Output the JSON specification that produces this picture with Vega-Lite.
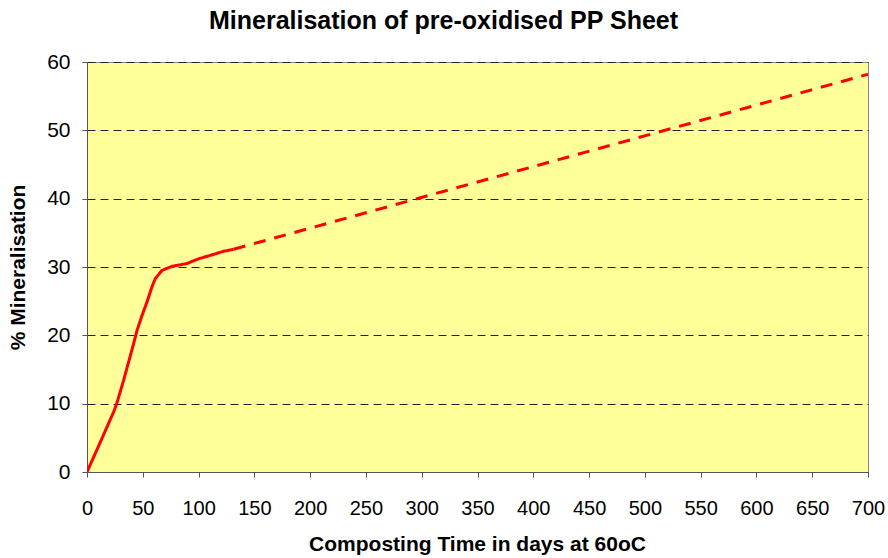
{
  "$schema": "https://vega.github.io/schema/vega-lite/v6.json",
  "width": 781,
  "height": 410,
  "autosize": {"type": "none"},
  "padding": {"left": 87, "top": 62, "right": 20, "bottom": 86},
  "background": "white",
  "config": {
    "font": "Liberation Sans",
    "view": {"fill": "#FFFF99", "stroke": "#888888", "strokeWidth": 1}
  },
  "title": {
    "text": "Mineralisation of pre-oxidised PP Sheet",
    "font": "Liberation Sans",
    "fontSize": 25,
    "fontWeight": "bold",
    "color": "#000000",
    "anchor": "middle",
    "dx": -34,
    "offset": 17
  },
  "data": {
    "values": [
      {"day": 0, "pct": 0, "series": "measured"},
      {"day": 12, "pct": 4.4, "series": "measured"},
      {"day": 23.9, "pct": 8.8, "series": "measured"},
      {"day": 26.6, "pct": 10.0, "series": "measured"},
      {"day": 32.8, "pct": 13.4, "series": "measured"},
      {"day": 41.8, "pct": 18.8, "series": "measured"},
      {"day": 44.8, "pct": 20.7, "series": "measured"},
      {"day": 49.3, "pct": 22.9, "series": "measured"},
      {"day": 53.8, "pct": 24.9, "series": "measured"},
      {"day": 58.2, "pct": 27.1, "series": "measured"},
      {"day": 61.2, "pct": 28.3, "series": "measured"},
      {"day": 67.2, "pct": 29.5, "series": "measured"},
      {"day": 76.2, "pct": 30.1, "series": "measured"},
      {"day": 89.6, "pct": 30.5, "series": "measured"},
      {"day": 100, "pct": 31.2, "series": "measured"},
      {"day": 110.5, "pct": 31.7, "series": "measured"},
      {"day": 122.5, "pct": 32.3, "series": "measured"},
      {"day": 131.5, "pct": 32.6, "series": "measured"},
      {"day": 131.5, "pct": 32.6, "series": "extrapolated"},
      {"day": 700, "pct": 58.2, "series": "extrapolated"}
    ]
  },
  "mark": {"type": "line", "color": "#FF0000", "strokeWidth": 3, "clip": true},
  "encoding": {
    "x": {
      "field": "day",
      "type": "quantitative",
      "scale": {"domain": [0, 700], "nice": false},
      "axis": {
        "title": "Composting Time in days at 60oC",
        "values": [0, 50, 100, 150, 200, 250, 300, 350, 400, 450, 500, 550, 600, 650, 700],
        "grid": false,
        "domainColor": "#555555",
        "tickColor": "#555555",
        "tickSize": 5,
        "labelFontSize": 20,
        "labelColor": "#000000",
        "labelPadding": 21,
        "labelFlush": false,
        "titleFontSize": 21,
        "titleFontWeight": "bold",
        "titleColor": "#000000",
        "titlePadding": 15,
        "titleX": 390
      }
    },
    "y": {
      "field": "pct",
      "type": "quantitative",
      "scale": {"domain": [0, 60], "nice": false},
      "axis": {
        "title": "% Mineralisation",
        "values": [0, 10, 20, 30, 40, 50, 60],
        "grid": true,
        "gridColor": "#222222",
        "gridDash": [8, 5],
        "gridWidth": 1,
        "domainColor": "#555555",
        "tickColor": "#555555",
        "tickSize": 5,
        "labelFontSize": 21,
        "labelColor": "#000000",
        "labelPadding": 12,
        "titleFontSize": 21,
        "titleFontWeight": "bold",
        "titleColor": "#000000",
        "titlePadding": 18
      }
    },
    "detail": {"field": "series"},
    "strokeDash": {
      "field": "series",
      "type": "nominal",
      "scale": {"domain": ["measured", "extrapolated"], "range": [[1, 0], [12, 9]]},
      "legend": null
    }
  }
}
